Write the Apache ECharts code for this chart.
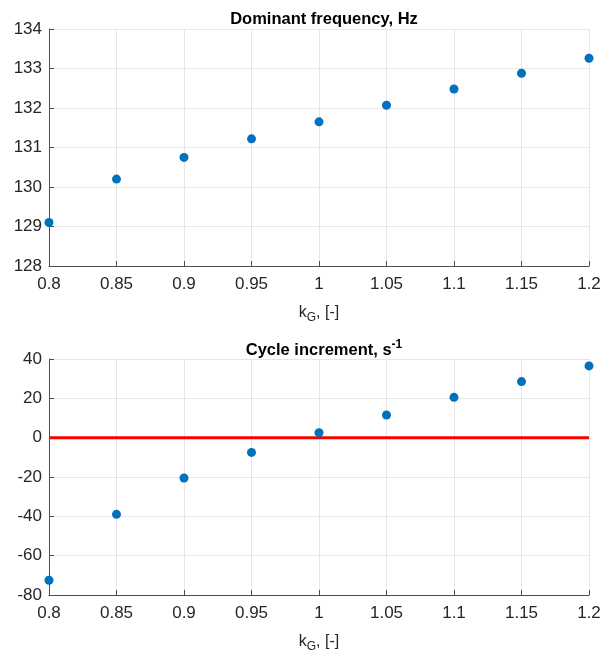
<!DOCTYPE html>
<html>
<head>
<meta charset="utf-8">
<script src="https://cdn.jsdelivr.net/npm/echarts@6/dist/echarts.min.js"></script>
<style>html,body{margin:0;padding:0;background:#fff;}#c{width:616px;height:657px;}</style>
</head>
<body>
<div id="c"></div>
<script>
const kG = [0.8, 0.85, 0.9, 0.95, 1.0, 1.05, 1.1, 1.15, 1.2];
const domFreq = [129.1, 130.2, 130.75, 131.22, 131.65, 132.07, 132.48, 132.88, 133.26];
const cycleInc = [-72.5, -39, -20.5, -7.5, 2.5, 11.5, 20.5, 28.5, 36.5];
const zeroLineX = [0.8, 1.2];
const zeroLineY = [0, 0];

const font = 'Liberation Sans, Arial, sans-serif';
const chart = echarts.init(document.getElementById('c'), null, {renderer: 'canvas'});

function xAxisCfg(gi) {
  return {
    type: 'value', gridIndex: gi, min: 0.8, max: 1.2, interval: 0.05,
    name: '{k|k}{s|G}{k|, [-]}', nameLocation: 'middle', nameGap: 36,
    nameTextStyle: {rich: {k: {fontFamily: font, fontSize: 16, color: '#262626'}, s: {fontFamily: font, fontSize: 12, color: '#262626', padding: [10, 0, 0, 0]}}},
    axisLine: {show: true, onZero: false, lineStyle: {color: '#4d4d4d', width: 1}},
    axisTick: {show: true, inside: true, length: 5, lineStyle: {color: '#4d4d4d'}},
    axisLabel: {fontFamily: font, fontSize: 17, color: '#262626', margin: 10,
      formatter: v => String(parseFloat(v.toFixed(2)))},
    splitLine: {show: true, lineStyle: {color: '#e6e6e6', width: 1}}
  };
}
function yAxisCfg(gi, min, max, interval) {
  return {
    type: 'value', gridIndex: gi, min: min, max: max, interval: interval,
    axisLine: {show: true, onZero: false, lineStyle: {color: '#4d4d4d', width: 1}},
    axisTick: {show: true, inside: true, length: 5, lineStyle: {color: '#4d4d4d'}},
    axisLabel: {fontFamily: font, fontSize: 17, color: '#262626', margin: 7},
    splitLine: {show: true, lineStyle: {color: '#e6e6e6', width: 1}}
  };
}

chart.setOption({
  animation: false,
  backgroundColor: '#fff',
  title: [
    {text: 'Dominant frequency, Hz', left: 319, top: 6, textAlign: 'center',
     textStyle: {fontFamily: font, fontSize: 16.5, fontWeight: 'bold', color: '#000'}},
    {text: '{t|Cycle increment, s}{u|-1}', left: 319, top: 334, textAlign: 'center',
     textStyle: {rich: {t: {fontFamily: font, fontSize: 16.5, fontWeight: 'bold', color: '#000'},
                        u: {fontFamily: font, fontSize: 12, fontWeight: 'bold', color: '#000', padding: [0, 0, 10, 0]}}}}
  ],
  grid: [
    {left: 49, right: 27, top: 29, height: 237},
    {left: 49, right: 27, top: 359, height: 236}
  ],
  xAxis: [xAxisCfg(0), xAxisCfg(1)],
  yAxis: [yAxisCfg(0, 128, 134, 1), yAxisCfg(1, -80, 40, 20)],
  series: [
    {type: 'scatter', xAxisIndex: 0, yAxisIndex: 0, symbol: 'circle', symbolSize: 9,
     itemStyle: {color: '#0072BD', opacity: 1}, data: kG.map((x, i) => [x, domFreq[i]])},
    {type: 'line', xAxisIndex: 1, yAxisIndex: 1, symbol: 'none',
     lineStyle: {color: '#ff0000', width: 3}, data: zeroLineX.map((x, i) => [x, zeroLineY[i]]), z: 2},
    {type: 'scatter', xAxisIndex: 1, yAxisIndex: 1, symbol: 'circle', symbolSize: 9,
     itemStyle: {color: '#0072BD', opacity: 1}, data: kG.map((x, i) => [x, cycleInc[i]]), z: 3}
  ]
});
</script>
</body>
</html>
